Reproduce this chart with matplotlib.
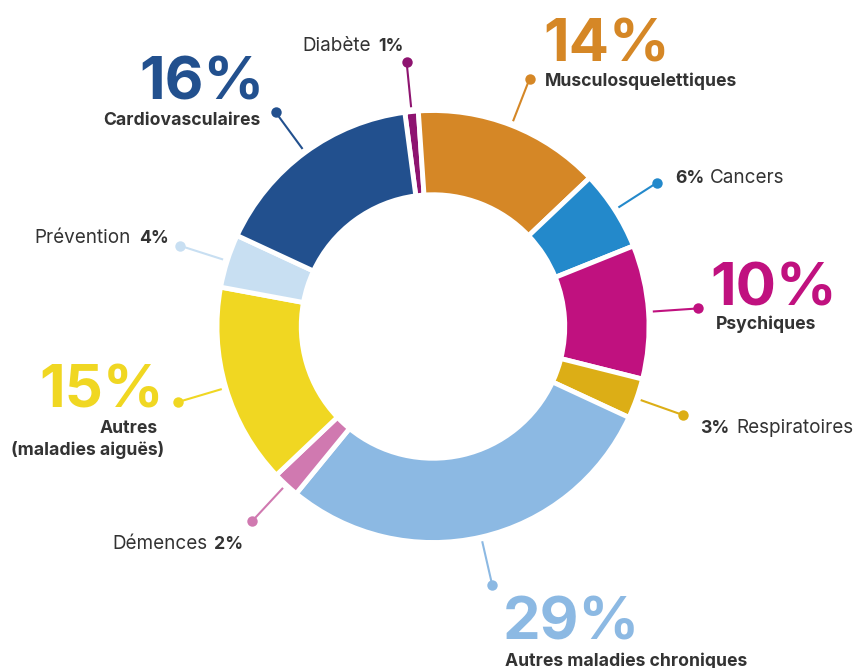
import matplotlib.pyplot as plt
import numpy as np

plt.rcParams['font.family'] = ['Inter', 'DejaVu Sans']

# share of each category, clockwise from the top
categories = ['Diabète', 'Musculosquelettiques', 'Cancers', 'Psychiques', 'Respiratoires',
              'Autres maladies chroniques', 'Démences', 'Autres\n(maladies aiguës)',
              'Prévention', 'Cardiovasculaires']
values = [1, 14, 6, 10, 3, 29, 2, 15, 4, 16]
colors = ['#8e1470', '#d58726', '#2389cb', '#c0117f', '#dcae16',
          '#8cb9e3', '#d079b0', '#f0d722', '#c8dff2', '#22508e']
pct_labels = [f'{v}%' for v in values]

DARK = '#333333'

# pixel layout helpers (image coords, y down)
CX, CY, R = 433, 326.5, 216
W, H = 855, 668


def P(x, y):
    return ((x - CX) / R, (CY - y) / R)


fig = plt.figure(figsize=(W / 100, H / 100), dpi=100)
ax = fig.add_axes([0, 0, 1, 1])

wedges, _ = ax.pie(values, colors=colors, radius=1, startangle=97.5, counterclock=False,
                   wedgeprops=dict(width=0.39, edgecolor='white', linewidth=3.5))
ax.set_xlim(-CX / R, (W - CX) / R)
ax.set_ylim(-(H - CY) / R, CY / R)
ax.axis('off')

# radial leader lines with a dot at the end
for w, c in zip(wedges, colors):
    a = np.deg2rad((w.theta1 + w.theta2) / 2)
    r0, r1 = 1.02, 1.23
    ax.plot([r0 * np.cos(a), r1 * np.cos(a)], [r0 * np.sin(a), r1 * np.sin(a)],
            color=c, lw=1.5, solid_capstyle='butt')
    ax.plot(r1 * np.cos(a), r1 * np.sin(a), 'o', color=c, ms=7.5, mec='none')

BIG = 43
BOLD = 12.7
REG = 13.6


def big(i, x, y, ha):
    ax.text(*P(x, y), pct_labels[i], color=colors[i], fontsize=BIG, fontweight='bold',
            ha=ha, va='baseline')


def bold(s, x, y, ha, color=DARK):
    ax.text(*P(x, y), s, color=color, fontsize=BOLD, fontweight='bold', ha=ha, va='baseline')


def reg(s, x, y, ha):
    ax.text(*P(x, y), s, color=DARK, fontsize=REG, ha=ha, va='baseline')


# Diabète
reg(categories[0], 371, 51, 'right')
bold(pct_labels[0], 404, 51, 'right')
# Musculosquelettiques
big(1, 543, 62, 'left')
bold(categories[1], 545, 86, 'left')
# Cancers
bold(pct_labels[2], 675, 183, 'left')
reg(categories[2], 710, 183, 'left')
# Psychiques
big(3, 710, 305, 'left')
bold(categories[3], 716, 329, 'left')
# Respiratoires
bold(pct_labels[4], 700, 433, 'left')
reg(categories[4], 736, 433, 'left')
# Autres maladies chroniques
big(5, 503, 640, 'left')
bold(categories[5], 505, 666, 'left')
# Démences
reg(categories[6], 112, 549, 'left')
bold(pct_labels[6], 214, 549, 'left')
# Autres (maladies aiguës)
big(7, 164, 408, 'right')
bold('Autres', 158, 433, 'right')
bold('(maladies aiguës)', 164, 455, 'right')
# Prévention
reg(categories[8], 34, 243, 'left')
bold(pct_labels[8], 139, 243, 'left')
# Cardiovasculaires
big(9, 264, 100, 'right')
bold(categories[9], 260, 125, 'right')

fig.savefig('out.png', dpi=100)
